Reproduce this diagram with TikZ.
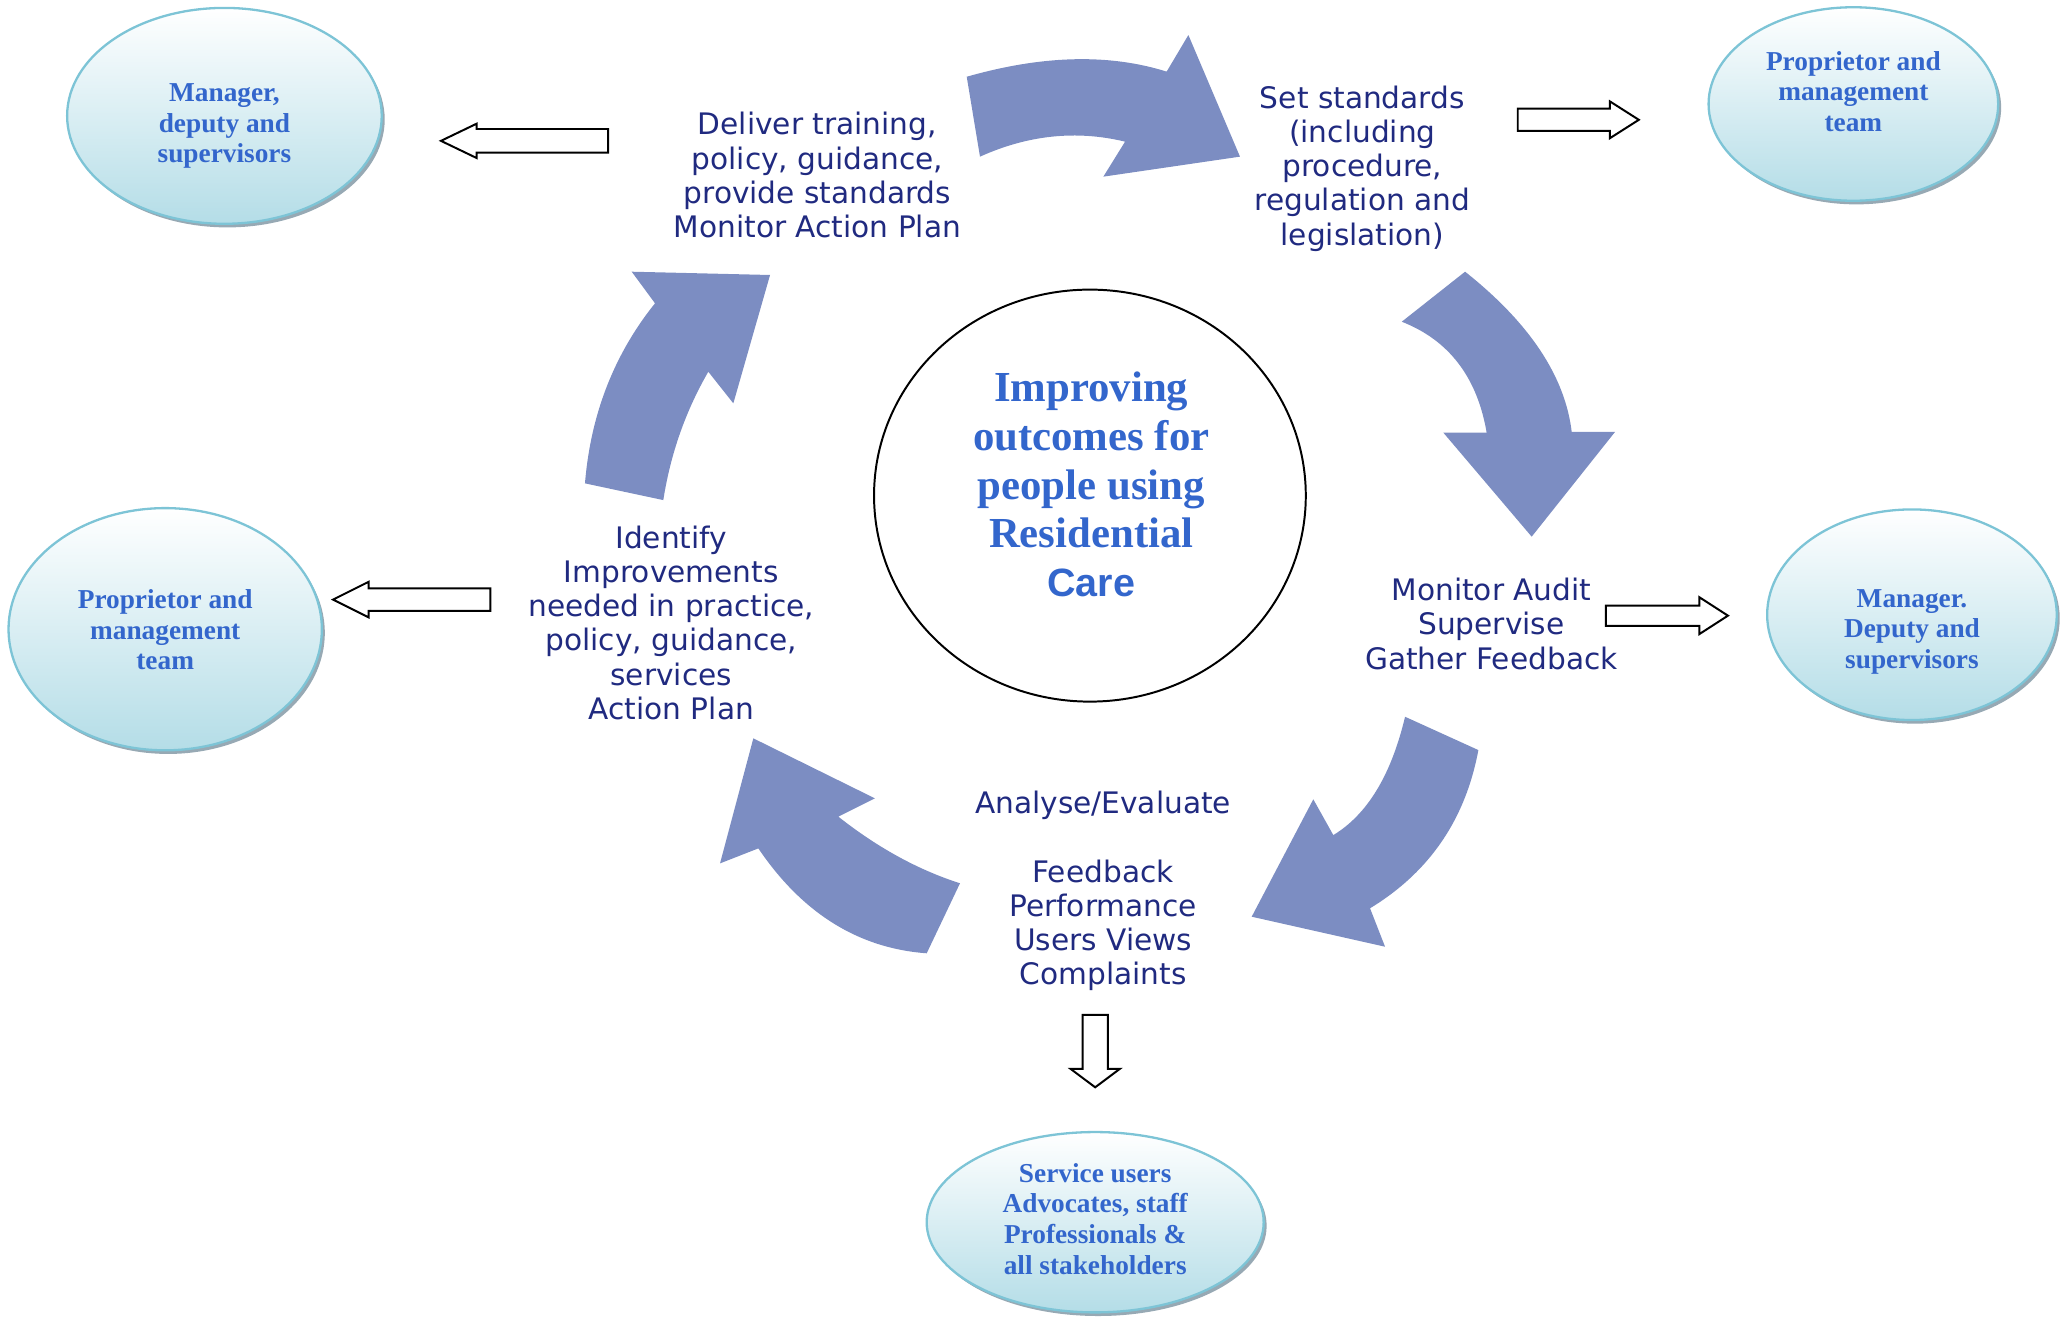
\documentclass[tikz,border=0pt]{standalone}
\usepackage{fontspec}
\setmainfont{Liberation Serif}
\newfontfamily\verd{DejaVu Sans}
\newfontfamily\arialf{Liberation Sans}
\usetikzlibrary{shapes.geometric,shadows}
\definecolor{arrowc}{RGB}{124,141,194}
\definecolor{navy}{RGB}{32,42,128}
\definecolor{eblue}{RGB}{51,102,204}
\definecolor{ebot}{RGB}{180,221,231}
\definecolor{eborder}{RGB}{125,196,214}
\definecolor{eshadow}{RGB}{140,160,172}
\begin{document}
\begin{tikzpicture}[x=0.4pt,y=-0.4pt,
  cyc/.style={align=center,text=navy,font=\verd\fontsize{9}{10.4}\selectfont,inner sep=0pt},
  bubble/.style={ellipse,draw=eborder,line width=0.7pt,top color=white,bottom color=ebot,
     drop shadow={shadow xshift=0.9pt,shadow yshift=-1.1pt,fill=eshadow,opacity=0.9},inner sep=0pt},
  btext/.style={align=center,text=eblue,font=\bfseries\fontsize{8.3}{9.3}\selectfont,inner sep=0pt},
  curved/.style={fill=arrowc,draw=none},
  hollow/.style={draw=black,fill=white,line width=0.6pt,line join=miter}
]
\useasboundingbox (0,0) rectangle (1568,1002);

% central circle
\node[ellipse,draw=black,line width=0.6pt,minimum width=131.2pt,minimum height=125.2pt,inner sep=0pt] (hub) at (828,376.5) {};
\node[align=center,text=eblue,font=\bfseries\fontsize{13}{14.8}\selectfont,inner sep=0pt] (hubt) at (829,368)
  {Improving\\outcomes for\\people using\\Residential\\{\arialf\bfseries\fontsize{12}{14.8}\selectfont Care}};

% curved cycle arrows
\path[curved] (734.4,58.3) .. controls (791.8,41.9) and (842.4,40.6) .. (886.3,54.4)
  -- (902.8,26.6) -- (942,119) -- (838.2,134.2) -- (854.7,107.6)
  .. controls (817.8,98.7) and (781.1,102.5) .. (744.5,119) -- cycle;
\path[curved] (1113,206.4) .. controls (1161.9,245.2) and (1188.9,285.7) .. (1194,328)
  -- (1227,328) -- (1163.6,407.7) -- (1096.5,328.7) -- (1129.4,328.7)
  .. controls (1122.2,286.5) and (1100.7,258.4) .. (1064.9,244.4) -- cycle;
\path[curved] (1123.1,569.8) .. controls (1113.3,622.5) and (1085.9,662.6) .. (1040.8,690)
  -- (1052.2,719.2) -- (950.9,696.4) -- (997.7,607.2) -- (1012.9,634.4)
  .. controls (1038.7,618.8) and (1056.9,588.8) .. (1067.4,544.5) -- cycle;
\path[curved] (729.3,671) .. controls (697.7,660.9) and (666.9,644.1) .. (636.9,620.4)
  -- (664.7,606.5) -- (572.3,560.9) -- (547,655.9) -- (576.1,644.5)
  .. controls (609.5,693.8) and (652.1,720.4) .. (704,724.2) -- cycle;
\path[curved] (503.9,379.9) .. controls (509.4,344.8) and (520.8,312.3) .. (538.1,282.4)
  -- (557.1,306.4) -- (585,208.9) -- (479.9,206.4) -- (497.6,230.4)
  .. controls (466.4,269.3) and (448.7,314.9) .. (444.4,367.2) -- cycle;

% cycle texts
\node[cyc] (deliver) at (621,133) {Deliver training,\\policy, guidance,\\provide standards\\Monitor Action Plan};
\node[cyc] (setstd) at (1035,128) {Set standards\\(including\\procedure,\\regulation and\\legislation)};
\node[cyc] (monitor) at (1133,474) {Monitor Audit\\Supervise\\Gather Feedback};
\node[cyc] (analyse) at (838,677) {Analyse/Evaluate\\[10.4pt]Feedback\\Performance\\Users Views\\Complaints};
\node[cyc] (identify) at (510,473) {Identify\\Improvements\\needed in practice,\\policy, guidance,\\services\\Action Plan};

% bubbles
\node[bubble,minimum width=95.6pt,minimum height=65.6pt] (e1) at (170.5,88) {};
\node[btext] (e1t) at (170.5,95.7) {Manager,\\deputy and\\supervisors};
\node[bubble,minimum width=88pt,minimum height=58.8pt] (e2) at (1408,79) {};
\node[btext] (e2t) at (1408,69.6) {Proprietor and\\management\\team};
\node[bubble,minimum width=95.2pt,minimum height=73.6pt] (e3) at (125.5,478) {};
\node[btext] (e3t) at (125.5,478.6) {Proprietor and\\management\\team};
\node[bubble,minimum width=88pt,minimum height=64pt] (e4) at (1452.5,467) {};
\node[btext] (e4t) at (1452.5,480) {Manager.\\Deputy and\\supervisors};
\node[bubble,minimum width=102.4pt,minimum height=54.8pt] (e5) at (832,928.5) {};
\node[btext] (e5t) at (832,926) {Service users\\Advocates, staff\\Professionals \&\\all stakeholders};

% hollow block arrows
\draw[hollow] (335,107) -- (362,94) -- (362,98) -- (462,98) -- (462,116) -- (362,116) -- (362,120) -- cycle;
\draw[hollow] (1153,82.5) -- (1223,82.5) -- (1223,77) -- (1245,91) -- (1223,105) -- (1223,99.5) -- (1153,99.5) -- cycle;
\draw[hollow] (253,455.5) -- (280,442) -- (280,447) -- (372.6,447) -- (372.6,464) -- (280,464) -- (280,469) -- cycle;
\draw[hollow] (1220,460) -- (1291,460) -- (1291,453.7) -- (1312.7,467.7) -- (1291,481.7) -- (1291,475.4) -- (1220,475.4) -- cycle;
\draw[hollow] (822.4,771) -- (841.6,771) -- (841.6,812) -- (850.7,812) -- (832,826) -- (813.3,812) -- (822.4,812) -- cycle;
\end{tikzpicture}
\end{document}
